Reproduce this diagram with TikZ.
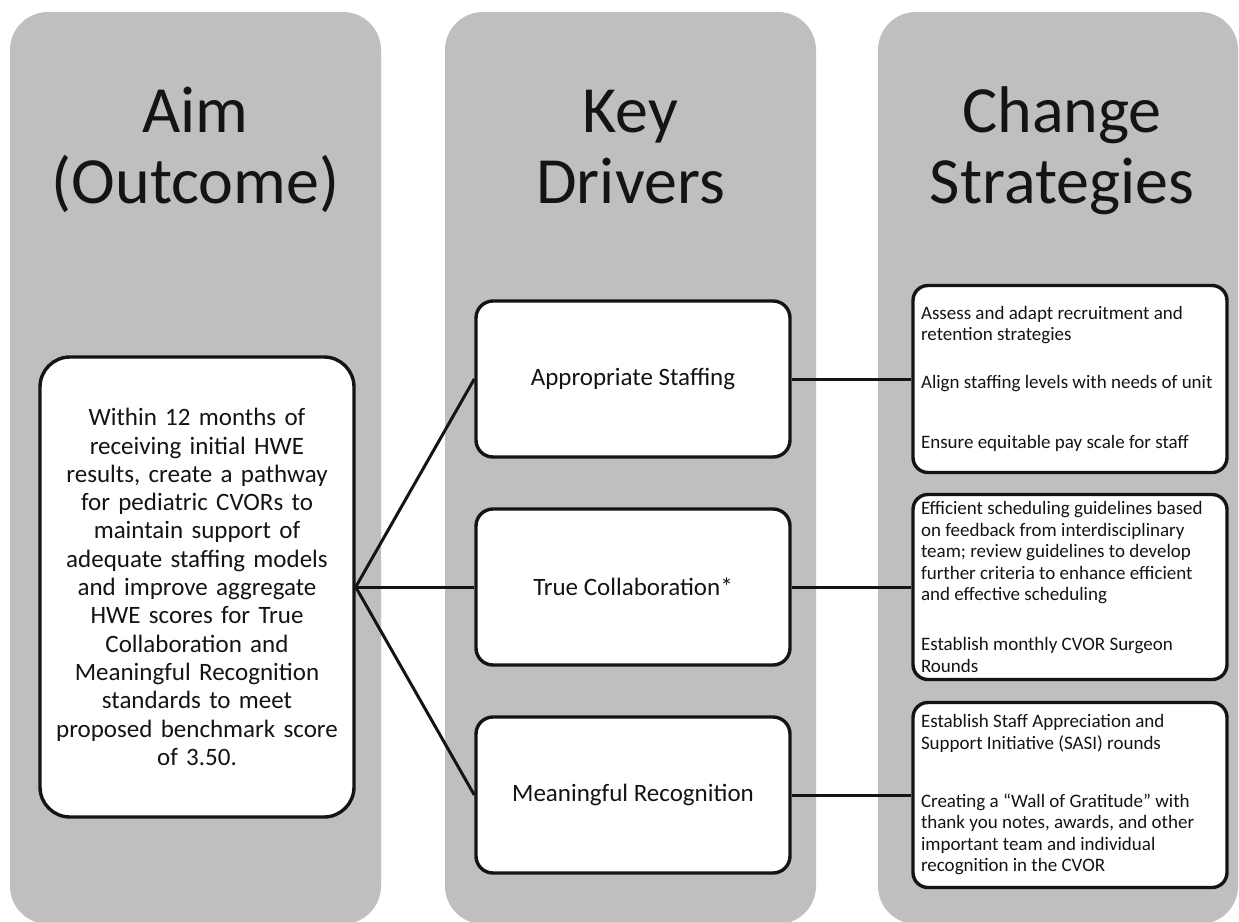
\documentclass[tikz,border=0pt]{standalone}
\usepackage{fontspec}
\setmainfont{Carlito}
\definecolor{panelgray}{RGB}{191,191,191}
\definecolor{ink}{RGB}{20,20,20}
\begin{document}
\begin{tikzpicture}[x=1pt,y=-1pt,
  panel/.style={fill=panelgray, draw=none, rounded corners=38pt, inner sep=0pt},
  heading/.style={font=\fontsize{66}{71}\selectfont, align=center, text=ink, inner sep=0pt, anchor=base},
  aimbox/.style={draw=ink, fill=white, line width=3.4pt, rounded corners=30pt,
    minimum width=314pt, minimum height=460pt, text width=300pt, align=center,
    inner sep=0pt, font=\fontsize{25}{28.3}\selectfont, text=ink},
  driverbox/.style={draw=ink, fill=white, line width=3.4pt, rounded corners=17pt,
    minimum width=314pt, minimum height=156pt, align=center,
    font=\fontsize{25}{30}\selectfont, text=ink},
  stratbox/.style={draw=ink, fill=white, line width=3.4pt, rounded corners=15pt,
    minimum width=314pt, text width=298pt, inner xsep=8pt, inner ysep=0pt, align=flush left,
    font=\fontsize{19}{21.5}\selectfont, text=ink},
  link/.style={draw=ink, line width=3pt}
]
\useasboundingbox[fill=white] (0,0) rectangle (1239,921);

% three background panels
\node[panel, minimum width=371pt, minimum height=912pt] (colA) at (195.5,468) {};
\node[panel, minimum width=371pt, minimum height=912pt] (colB) at (630.5,468) {};
\node[panel, minimum width=360pt, minimum height=912pt] (colC) at (1058,468) {};

% column headings (anchored on the baseline of the second line)
\node[heading] (hA) at (195.5,203) {Aim\\(Outcome)};
\node[heading] (hB) at (630.5,203) {Key\\Drivers};
\node[heading] (hC) at (1062,203) {Change\\Strategies};

% aim
\node[aimbox] (aim) at (197,587) {Within 12 months of\\receiving initial HWE\\results, create a pathway\\for pediatric CVORs to\\maintain support of\\adequate staffing models\\and improve aggregate\\HWE scores for True\\Collaboration and\\Meaningful Recognition\\standards to meet\\proposed benchmark score\\of 3.50.};

% key drivers
\node[driverbox] (d1) at (633,379) {Appropriate Staffing};
\node[driverbox] (d2) at (633,587) {True Collaboration*};
\node[driverbox] (d3) at (633,795) {Meaningful Recognition};

% change strategies
\node[stratbox, minimum height=187pt] (s1) at (1070,379) {Assess and adapt recruitment and\\retention strategies\\[26.5pt]\mbox{Align staffing levels with needs of unit}\\[38.5pt]Ensure equitable pay scale for staff};
\node[stratbox, minimum height=185pt] (s2) at (1070,587) {\mbox{Efficient scheduling guidelines based}\\on feedback from interdisciplinary\\team; review guidelines to develop\\\mbox{further criteria to enhance efficient}\\and effective scheduling\\[28.5pt]Establish monthly CVOR Surgeon\\Rounds};
\node[stratbox, minimum height=185pt] (s3) at (1070,795) {Establish Staff Appreciation and\\Support Initiative (SASI) rounds\\[36.5pt]Creating a “Wall of Gratitude” with\\thank you notes, awards, and other\\important team and individual\\recognition in the CVOR};

% connectors
\draw[link] (aim.east) -- (d1.west);
\draw[link] (aim.east) -- (d2.west);
\draw[link] (aim.east) -- (d3.west);
\draw[link] (d1.east) -- (s1.west);
\draw[link] (d2.east) -- (s2.west);
\draw[link] (d3.east) -- (s3.west);
\end{tikzpicture}
\end{document}
